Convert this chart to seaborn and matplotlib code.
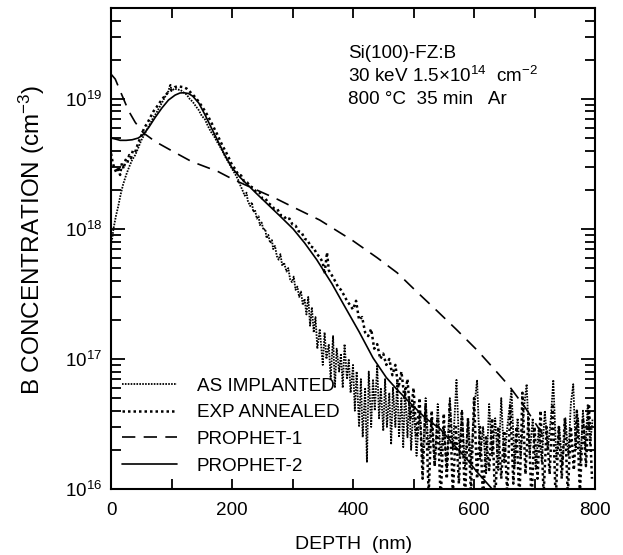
import matplotlib
matplotlib.use("Agg")
import matplotlib.pyplot as plt
import matplotlib.ticker as mticker
import numpy as np
import pandas as pd
import seaborn as sns

# ---------------- data (concentrations in units of 1e16 cm^-3) ----------------
UNIT = 1e16

as_impl_depth = [0, 2, 4, 8, 12, 16, 20, 25, 30, 35, 40, 45, 50, 55, 60, 65, 70, 75, 80, 85, 90, 95, 98,
                 100, 105, 110, 115, 120, 125, 130, 135, 140, 145, 150, 155, 160, 165, 170, 175, 180, 185,
                 190, 195, 200, 205, 210, 213, 217, 221, 224, 226, 230, 233, 235, 238, 241, 244, 246, 249,
                 252, 255, 257, 260, 263, 266, 268, 271, 274, 277, 280, 283, 286, 290, 293, 296, 299, 302,
                 305, 308, 311, 314, 317, 320, 323, 326, 329, 332, 335, 338, 341,
                 345, 350, 353, 356, 360, 363, 367, 370, 373, 377, 380, 383, 386, 390, 393, 396, 400, 403,
                 406, 410, 413, 416, 420, 423, 426, 430, 433, 436, 440, 443, 446, 450, 453, 456, 460, 463,
                 466, 470, 473, 476, 480, 483, 486, 490, 493, 496, 500, 505, 510, 515, 520, 525, 530, 535,
                 540, 545, 550, 555, 560, 565, 571, 576, 580, 585, 590, 595, 600, 605, 610, 615, 620, 625,
                 630, 635, 640, 645, 650, 655, 662, 667, 672, 677, 682, 687, 692, 697, 702, 707, 712, 717,
                 722, 727, 731, 736, 741, 746, 751, 756, 760, 764, 768, 772, 776, 780, 784, 788, 792, 796]
as_impl_conc = [75, 85, 100, 125, 150, 185, 220, 260, 300, 340, 370, 420, 480, 530, 590, 650, 720, 780, 860,
                950, 1050, 1150, 1300,
                1150, 1200, 1180, 1170, 1120, 1080, 1000, 950, 880, 820, 740, 700, 620, 560, 520, 470, 430,
                390, 350, 320, 290, 265, 240, 220, 200, 180, 190, 165, 150, 160, 135, 140, 120, 125, 107,
                112, 98, 100, 85, 90, 78, 82, 70, 74, 62, 58, 64, 52, 55, 47, 50, 41, 39, 43, 34, 36, 30,
                33, 26, 29, 22, 30, 18, 25, 16, 21, 12,
                17, 9, 16, 10, 13, 7, 15, 6, 12, 8, 11, 6, 13, 7, 10, 5.5, 9, 4, 8, 3, 7, 2.5, 6, 1.6, 8, 3,
                7, 4, 9, 3.5, 6, 2.8, 7, 3, 5.5, 2.2, 6, 3, 7, 2.5, 5, 2.1, 6, 2.5, 5, 2, 4.5, 1.8, 4, 1.6,
                5, 2, 3.5, 1.5, 4.5, 1.8, 3, 1.4, 5, 2, 6.9, 1.8, 4, 1.5, 3.5, 1.6, 4, 6.9, 1.7, 3, 1.3,
                4.5, 1.8, 3.5, 1.4, 5, 1.6, 3, 5.8, 1.5, 3.5, 1.7, 4, 6.4, 1.8, 3.5, 1.4, 3, 1.6, 4, 2, 3.5,
                6.9, 1.7, 3, 1.5, 3.5, 1.8, 4.5, 6.4, 2, 3.5, 1.6, 4, 2, 4.5, 2.2, 3.5]

annealed_depth = [0, 3, 6, 9, 12, 15, 18, 21, 24, 27, 30, 33, 36, 40, 45, 50, 55, 60, 65, 70, 75, 80, 85, 90,
                  95, 100, 105, 110, 115, 120, 125, 130, 135, 140, 145, 150, 155, 160, 165, 170, 175, 180,
                  185, 190, 195, 200, 205, 210, 215, 220, 225, 230, 235, 240, 245, 250, 255, 260, 265, 270,
                  275, 280, 285, 290, 295, 300, 305, 310, 315, 320, 325, 330, 335, 340, 345, 350, 353, 357,
                  360, 365, 370, 375, 380, 385, 390, 395, 400, 405, 410, 415, 420, 425, 430, 435, 440, 445,
                  450, 455, 460, 465, 470, 475, 480, 485, 490, 495, 500, 505, 510, 515, 520, 525, 530, 535,
                  540, 545, 550, 555, 560, 565, 570, 575, 580, 585, 590, 595, 600, 605, 610, 615, 620, 625,
                  630, 635, 640, 645, 650, 655, 660, 665, 670, 675, 680, 685, 690, 695, 700, 705, 710, 715,
                  720, 725, 730, 735, 740, 745, 750, 755, 760, 765, 770, 775, 780, 785, 790, 795]
annealed_conc = [380, 320, 290, 270, 300, 260, 320, 290, 340, 320, 370, 350, 400, 390, 460, 520, 600, 650,
                 720, 800, 860, 930, 1000, 1070, 1130, 1180, 1230, 1250, 1240, 1230, 1200, 1140, 1080, 1020,
                 950, 880, 810, 740, 670, 600, 540, 480, 430, 390, 350, 310, 290, 262, 258, 232, 228, 212,
                 208, 192, 192, 172, 172, 158, 152, 143, 142, 128, 127, 118, 120, 108, 106, 96, 94, 84, 82,
                 73, 72, 64, 61, 55, 45, 66, 48, 44, 40, 36, 34, 31, 28, 26, 24, 28, 20, 21, 16, 15, 17, 12,
                 13, 10, 11, 9, 10, 7.5, 9, 6, 8, 5, 7, 3.5, 6, 2.5, 5, 1.2, 4.5, 0.9, 4, 1.5, 3.5, 0.8, 3.8,
                 1.2, 4.5, 0.9, 3, 1.1, 4, 0.8, 3.5, 0.9, 5, 1.2, 3, 0.8, 2.5, 1.4, 3.5, 0.8, 3, 1.2, 2.8,
                 0.9, 4.5, 1.1, 3, 0.8, 5.5, 1.3, 3.5, 0.8, 3, 1.2, 4, 0.9, 3, 1.3, 4.5, 0.8, 3, 1.2, 3.5,
                 0.9, 3, 1.4, 4, 0.9, 3.5, 1.5, 4.5, 1.2]

prophet1_depth = [0, 7, 18, 29, 40, 53, 73, 100, 133, 177, 202, 240, 274, 300, 345, 400, 440, 473,
                  505, 539, 570, 605, 630, 658, 685, 714]
prophet1_conc = [1550, 1420, 1070, 810, 660, 550, 470, 400, 330, 276, 240, 200, 170, 148, 117, 81, 60, 46,
                 33, 23.4, 17, 11.7, 8.7, 6.2, 4.2, 2.6]

prophet2_depth = [0, 8, 15, 25, 35, 45, 53, 62, 73, 84, 95, 106, 114, 120, 128, 135, 145, 155, 165, 177,
                  188, 200, 213, 241, 279, 301, 320, 340, 365, 387, 410, 433, 455, 473, 494, 520, 544, 570,
                  590, 605, 615, 630]
prophet2_conc = [500, 490, 480, 480, 485, 500, 530, 600, 720, 850, 980, 1070, 1110, 1115, 1100, 1050, 930,
                 760, 610, 470, 370, 295, 250, 186, 126, 100, 78, 58, 38, 25, 16.2, 10.2, 7.2, 5.8, 4.6,
                 3.5, 2.9, 2.1, 1.66, 1.35, 1.2, 1.0]

legend_labels = ["AS IMPLANTED", "EXP ANNEALED", "PROPHET-1", "PROPHET-2"]
y_ticks = [1e16, 1e17, 1e18, 1e19]
y_tick_labels = ["$10^{16}$", "$10^{17}$", "$10^{18}$", "$10^{19}$"]
x_ticks = [0, 200, 400, 600, 800]
annotation_lines = ["Si(100)-FZ:B", "30 keV 1.5\u00d710$^{14}$  cm$^{-2}$", "800 \u00b0C  35 min   Ar"]

# ---------------- style ----------------
sns.set_theme(style="ticks")
plt.rcParams["font.family"] = ["Liberation Sans", "DejaVu Sans"]
plt.rcParams["mathtext.fontset"] = "custom"
plt.rcParams["mathtext.rm"] = "Liberation Sans"
plt.rcParams["mathtext.it"] = "Liberation Sans"
plt.rcParams["mathtext.bf"] = "Liberation Sans"
for k in ["text.color", "axes.labelcolor", "xtick.color", "ytick.color", "axes.edgecolor"]:
    plt.rcParams[k] = "black"

FS = 13.6

fig = plt.figure(figsize=(6.23, 5.55), dpi=100)
ax = fig.add_axes([0.1782, 0.1189, 0.7769, 0.8667])

def frame(d, c):
    return pd.DataFrame({"depth": d, "conc": np.asarray(c, dtype=float) * UNIT})

sns.lineplot(data=frame(as_impl_depth, as_impl_conc), x="depth", y="conc", ax=ax, color="black",
             lw=1.3, linestyle=(0, (0.9, 0.7)), estimator=None, sort=False, label=legend_labels[0])
sns.lineplot(data=frame(annealed_depth, annealed_conc), x="depth", y="conc", ax=ax, color="black",
             lw=1.8, linestyle=(0, (1.0, 1.2)), estimator=None, sort=False, label=legend_labels[1])
sns.lineplot(data=frame(prophet1_depth, prophet1_conc), x="depth", y="conc", ax=ax, color="black",
             lw=1.2, linestyle=(0, (8, 5)), estimator=None, sort=False, label=legend_labels[2])
sns.lineplot(data=frame(prophet2_depth, prophet2_conc), x="depth", y="conc", ax=ax, color="black",
             lw=1.2, linestyle="-", estimator=None, sort=False, label=legend_labels[3])

ax.set_yscale("log")
ax.set_xlim(0, 800)
ax.set_ylim(1e16, 5e19)

ax.set_xticks(x_ticks)
ax.set_xticklabels([str(t) for t in x_ticks], fontsize=FS)
ax.xaxis.set_minor_locator(mticker.FixedLocator([100, 300, 500, 700]))
ax.set_yticks(y_ticks)
ax.set_yticklabels(y_tick_labels, fontsize=FS)
ax.yaxis.set_minor_locator(mticker.LogLocator(base=10, subs=np.arange(2, 10), numticks=20))
ax.yaxis.set_minor_formatter(mticker.NullFormatter())

ax.tick_params(which="both", direction="in", top=True, right=True, color="black", width=1.3)
ax.tick_params(which="major", length=10)
ax.tick_params(which="minor", length=7)
ax.tick_params(axis="x", which="major", length=7, pad=9)
ax.tick_params(axis="x", which="minor", length=7)
ax.tick_params(axis="y", pad=6)

for s in ax.spines.values():
    s.set_visible(True)
    s.set_linewidth(1.5)
    s.set_color("black")

ax.set_xlabel("DEPTH  (nm)", fontsize=14)
ax.xaxis.label.set_va("center")
ax.xaxis.set_label_coords(0.502, -0.116)
ax.set_ylabel("B CONCENTRATION (cm$^{-3}$)", fontsize=17.5)
ax.yaxis.label.set_va("center")
ax.yaxis.set_label_coords(-0.163, 0.518)

ys = [0.906, 0.859, 0.809]
for t, yy in zip(annotation_lines, ys):
    ax.text(0.49, yy, t, transform=ax.transAxes, fontsize=FS, va="center", ha="left", color="black")

leg = ax.legend(loc="lower left", bbox_to_anchor=(0.023, 0.03), frameon=False, fontsize=FS,
                handlelength=2.9, handletextpad=1.05, labelspacing=0.5, borderpad=0, borderaxespad=0)
for h in leg.get_lines():
    h.set_color("black")

fig.savefig("out.png", dpi=100, facecolor="white")
